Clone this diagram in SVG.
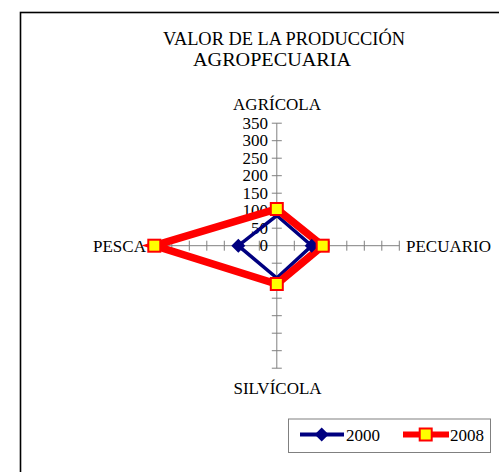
<svg xmlns="http://www.w3.org/2000/svg" width="499" height="472" viewBox="0 0 499 472">
<style>
text{font-family:"Liberation Serif","Times New Roman",serif;fill:#000}
.t{font-size:18px}
.lab{font-size:17px}
.num{font-size:17px;text-anchor:end}
.ax{stroke:#808080;stroke-width:1;fill:none}
.s08{fill:none;stroke:#FF0000;stroke-width:7.5;stroke-linejoin:miter}
.s00{fill:none;stroke:#000080;stroke-width:3.5}
.sq{fill:#FFFF00;stroke:#FF0000;stroke-width:2}
.dm{fill:#000080}
</style>
<defs>
<rect id="sqm" x="-6" y="-6" width="12" height="12" class="sq"/>
<path id="dmm" d="M0,-7 L7,0 L0,7 L-7,0 Z" class="dm"/>
</defs>
<rect x="0" y="0" width="499" height="472" fill="#fff"/>
<rect x="20.5" y="12.5" width="500" height="500" fill="#fff" stroke="#000" stroke-width="1.6"/>
<g id="title">
<text class="t" x="163" y="45" textLength="242" lengthAdjust="spacingAndGlyphs">VALOR DE LA PRODUCCIÓN</text>
<text class="t" x="193" y="65.5" textLength="158" lengthAdjust="spacingAndGlyphs">AGROPECUARIA</text>
</g>
<g id="axes">
<path class="ax" d="M276.8,123.2 V368.2 M154.3,245.7 H399.3"/>
<path class="ax" d="M271.8,123.2 h10 M271.8,140.7 h10 M271.8,158.2 h10 M271.8,175.7 h10 M271.8,193.2 h10 M271.8,210.7 h10 M271.8,228.2 h10 M271.8,263.2 h10 M271.8,280.7 h10 M271.8,298.2 h10 M271.8,315.7 h10 M271.8,333.2 h10 M271.8,350.7 h10 M271.8,368.2 h10"/>
<path class="ax" d="M154.3,240.7 v10 M171.8,240.7 v10 M189.3,240.7 v10 M206.8,240.7 v10 M224.3,240.7 v10 M241.8,240.7 v10 M259.3,240.7 v10 M294.3,240.7 v10 M311.8,240.7 v10 M329.3,240.7 v10 M346.8,240.7 v10 M364.3,240.7 v10 M381.8,240.7 v10 M399.3,240.7 v10"/>
<g id="ticklabels">
<text class="num" x="268" y="128.5">350</text>
<text class="num" x="268" y="146">300</text>
<text class="num" x="268" y="163.5">250</text>
<text class="num" x="268" y="181">200</text>
<text class="num" x="268" y="198.5">150</text>
<text class="num" x="268" y="216">100</text>
<text class="num" x="268" y="233.5">50</text>
<text class="num" x="268" y="251">0</text>
</g>
</g>
<g id="n-agricola"><text class="lab" x="277" y="110" text-anchor="middle">AGRÍCOLA</text></g>
<g id="n-pecuario"><text class="lab" x="406" y="252">PECUARIO</text></g>
<g id="n-silvicola"><text class="lab" x="277.5" y="394" text-anchor="middle">SILVÍCOLA</text></g>
<g id="n-pesca"><text class="lab" x="93" y="252">PESCA</text></g>
<g id="connectors">
<polygon class="s00" points="276.8,215.5 311.7,245.7 276.8,278 238.3,245.7"/>
<polygon class="s08" points="276.8,209 322.7,245.7 276.8,284 154.3,245.7"/>
<use href="#dmm" x="311.7" y="245.7"/>
<use href="#dmm" x="238.3" y="245.7"/>
<use href="#sqm" x="276.8" y="209"/>
<use href="#sqm" x="322.7" y="245.7"/>
<use href="#sqm" x="276.8" y="284"/>
<use href="#sqm" x="154.3" y="245.7"/>
</g>
<g id="legend">
<rect x="288.5" y="419" width="202" height="33.5" fill="#fff" stroke="#808080" stroke-width="1"/>
<line x1="300" y1="434.5" x2="344" y2="434.5" stroke="#000080" stroke-width="4"/>
<use href="#dmm" x="321.7" y="434.5"/>
<text class="lab" x="346" y="440.5">2000</text>
<line x1="403" y1="434.5" x2="449" y2="434.5" stroke="#FF0000" stroke-width="6"/>
<use href="#sqm" x="425.7" y="434.5"/>
<text class="lab" x="450" y="440.5">2008</text>
</g>
</svg>
